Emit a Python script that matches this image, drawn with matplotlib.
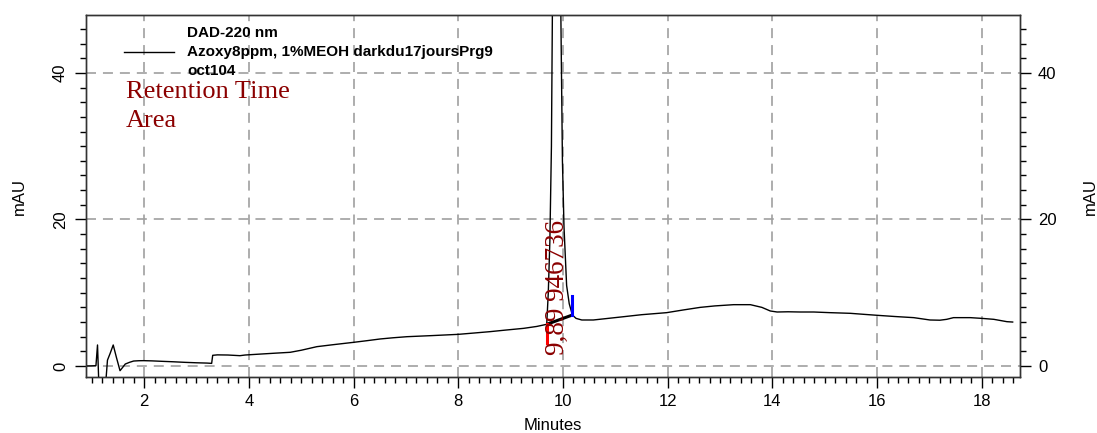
import matplotlib
matplotlib.use("Agg")
import matplotlib.pyplot as plt
from matplotlib.ticker import MultipleLocator, FixedLocator

plt.rcParams['font.family'] = ['Liberation Sans', 'DejaVu Sans']
plt.rcParams['lines.scale_dashes'] = False

# ---- data ----
time_min = [0.89, 1.00, 1.08, 1.11, 1.14, 1.20, 1.27, 1.30, 1.35, 1.41, 1.47, 1.54,
            1.60, 1.64, 1.72, 1.80, 1.90, 1.99, 2.15, 2.34, 2.55, 2.78, 3.00, 3.20,
            3.29, 3.31, 3.40, 3.60, 3.83, 3.93, 4.20, 4.50, 4.79, 5.00, 5.30, 5.60,
            6.00, 6.25, 6.51, 6.75, 7.02, 7.50, 8.00, 8.30, 8.61, 8.90, 9.25, 9.50,
            9.69, 9.72, 9.75, 9.78, 9.80, 9.84, 9.89, 9.93, 9.96, 9.99, 10.02, 10.07,
            10.12, 10.18, 10.25, 10.36, 10.58, 10.80, 11.16, 11.50, 11.98, 12.30, 12.62,
            12.90, 13.26, 13.58, 13.80, 13.96, 14.09, 14.30, 14.53, 14.79, 15.10, 15.49,
            15.75, 16.00, 16.35, 16.70, 17.01, 17.20, 17.33, 17.46, 17.78, 18.00, 18.23,
            18.48, 18.59]
signal_mau = [0.00, 0.02, 0.05, 2.87, -3.50, -5.00, -2.00, 0.80, 1.70, 2.87, 1.20, -0.64,
              -0.10, 0.27, 0.50, 0.68, 0.72, 0.73, 0.70, 0.64, 0.58, 0.50, 0.44, 0.40,
              0.36, 1.46, 1.52, 1.50, 1.41, 1.50, 1.62, 1.75, 1.87, 2.15, 2.64, 2.90,
              3.23, 3.45, 3.69, 3.85, 4.00, 4.15, 4.32, 4.50, 4.69, 4.90, 5.14, 5.40,
              5.69, 10.0, 17.0, 30.0, 50.0, 100.0, 150.0, 100.0, 48.0, 28.0, 19.0, 11.0,
              8.50, 6.96, 6.50, 6.28, 6.28, 6.45, 6.73, 7.00, 7.28, 7.65, 8.00,
              8.20, 8.37, 8.37, 8.00, 7.51, 7.37, 7.40, 7.37, 7.37, 7.28, 7.19,
              7.05, 6.92, 6.75, 6.60, 6.28, 6.25, 6.37, 6.60, 6.60, 6.50, 6.37,
              6.05, 6.00]

peak_rt = 9.89
peak_area = 946736
peak_start = (9.69, 5.69)
peak_end = (10.18, 6.96)

legend_label = "DAD-220 nm\nAzoxy8ppm, 1%MEOH darkdu17joursPrg9\noct104"
x_major = [2, 4, 6, 8, 10, 12, 14, 16, 18]
y_major = [0, 20, 40]

# ---- figure ----
fig = plt.figure(figsize=(10.97, 4.33), dpi=100)
ax = fig.add_axes([86/1097, 1 - 377/433, (1020-86)/1097, (377-15)/433])
ax.set_xlim(0.89, 18.73)
ax.set_ylim(-1.5, 47.9)

grid_kw = dict(color='#a0a0a0', linewidth=1.2, linestyle=(0, (7.2, 5.0)), zorder=1)
for xv in x_major:
    ax.axvline(xv, **grid_kw)
for yv in y_major:
    ax.axhline(yv, **grid_kw)

line, = ax.plot(time_min, signal_mau, color='black', linewidth=1.0, zorder=3)

# integration baseline and markers
ax.plot([peak_start[0], peak_end[0]], [peak_start[1], peak_end[1]], color='black',
        linewidth=2.2, zorder=4, solid_capstyle='butt')
ax.plot([peak_start[0], peak_start[0]], [3.1, peak_start[1]], color='red', linewidth=2.2, zorder=5)
ax.plot([peak_end[0], peak_end[0]], [peak_end[1], 9.6], color='blue', linewidth=2.2, zorder=5)

serif = ['Liberation Serif', 'DejaVu Serif']
ax.text(peak_rt, 1.5, f"{peak_rt:.2f}".replace('.', ',') + " " + str(peak_area),
        rotation=90, ha='center', va='bottom', color='#8b0000', fontsize=19.5,
        family=serif, zorder=6)
ax.text(0.0425, 1 - (98.3-15)/362, "Retention Time", transform=ax.transAxes, color='#8b0000',
        fontsize=19, family=serif, va='baseline')
ax.text(0.0425, 1 - (126.7-15)/362, "Area", transform=ax.transAxes, color='#8b0000',
        fontsize=19, family=serif, va='baseline')

leg = ax.legend([line], [legend_label], loc='upper left', bbox_to_anchor=(0.032, 0.99),
                frameon=False, borderpad=0, handlelength=3.3, handletextpad=0.85,
                prop={'weight': 'bold', 'size': 11})
for t in leg.get_texts():
    t.set_linespacing(1.45)

# ticks
ax.xaxis.set_major_locator(FixedLocator(x_major))
ax.xaxis.set_minor_locator(MultipleLocator(0.2))
ax.yaxis.set_major_locator(FixedLocator(y_major))
ax.yaxis.set_minor_locator(MultipleLocator(2))
ax.tick_params(axis='x', which='major', direction='out', length=8, width=1, labelsize=12, pad=4)
ax.tick_params(axis='x', which='minor', direction='out', length=4.5, width=1)
ax.tick_params(axis='y', which='major', direction='out', length=8, width=1, labelsize=12, pad=5)
ax.tick_params(axis='y', which='minor', direction='out', length=4.5, width=1)
for lab in ax.get_yticklabels():
    lab.set_rotation(90)
    lab.set_va('center')

ax.set_xlabel("Minutes", fontsize=12, labelpad=7)
ax.set_ylabel("mAU", fontsize=12, labelpad=19)

ax2 = ax.twinx()
ax2.set_ylim(ax.get_ylim())
ax2.yaxis.set_major_locator(FixedLocator(y_major))
ax2.yaxis.set_minor_locator(MultipleLocator(2))
ax2.tick_params(axis='y', which='major', direction='out', length=8, width=1, labelsize=12, pad=5)
ax2.tick_params(axis='y', which='minor', direction='out', length=4.5, width=1)
ax2.set_ylabel("mAU", fontsize=12, labelpad=19)

for a in (ax, ax2):
    for s in a.spines.values():
        s.set_color('#333333')
        s.set_linewidth(1.0)

fig.savefig("out.png", dpi=100)
